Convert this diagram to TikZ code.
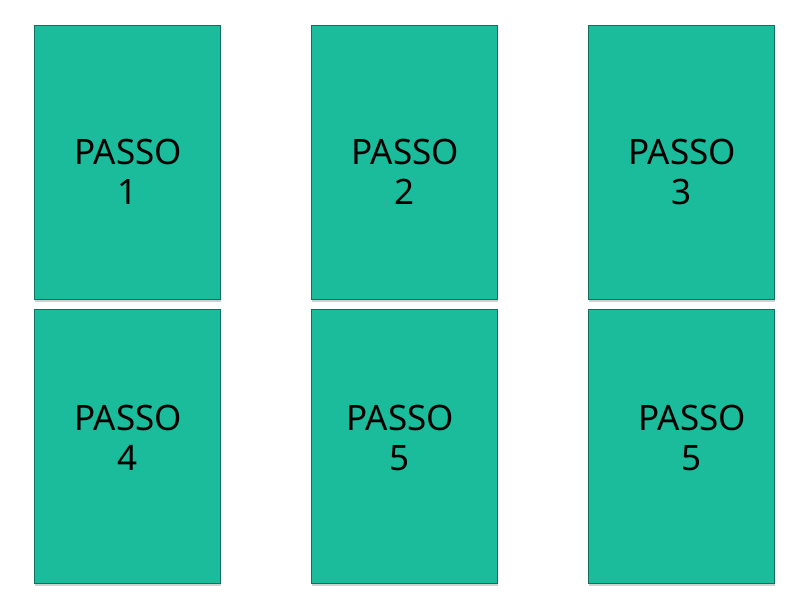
\documentclass[tikz,border=0pt]{standalone}
\usepackage{fontspec}
\setmainfont{Noto Sans}
\usetikzlibrary{shadows}
\definecolor{boxfill}{HTML}{1ABC9C}
\definecolor{boxline}{HTML}{11705E}
\begin{document}
\begin{tikzpicture}[x=1pt,y=-1pt,
  stepbox/.style={draw=boxline, line width=0.8pt, fill=boxfill, minimum width=186pt, minimum height=274pt, inner sep=0pt,
    drop shadow={shadow xshift=1pt, shadow yshift=-3pt, fill=black, opacity=0.18}},
  steptext/.style={align=center, inner sep=0pt, font=\fontsize{35}{40}\selectfont}]
\useasboundingbox (0,0) rectangle (800,600);
\node[stepbox] (b1) at (127,162) {};
\node[stepbox] (b2) at (404,162) {};
\node[stepbox] (b3) at (681,162) {};
\node[stepbox] (b4) at (127,446) {};
\node[stepbox] (b5) at (404,446) {};
\node[stepbox] (b6) at (681,446) {};
\node[steptext] (t1) at (128,172) {PASSO\\1};
\node[steptext] (t2) at (405,172) {PASSO\\2};
\node[steptext] (t3) at (682,172) {PASSO\\3};
\node[steptext] (t4) at (128,438) {PASSO\\4};
\node[steptext] (t5) at (400,438) {PASSO\\5};
\node[steptext] (t6) at (692,438) {PASSO\\5};
\end{tikzpicture}
\end{document}
